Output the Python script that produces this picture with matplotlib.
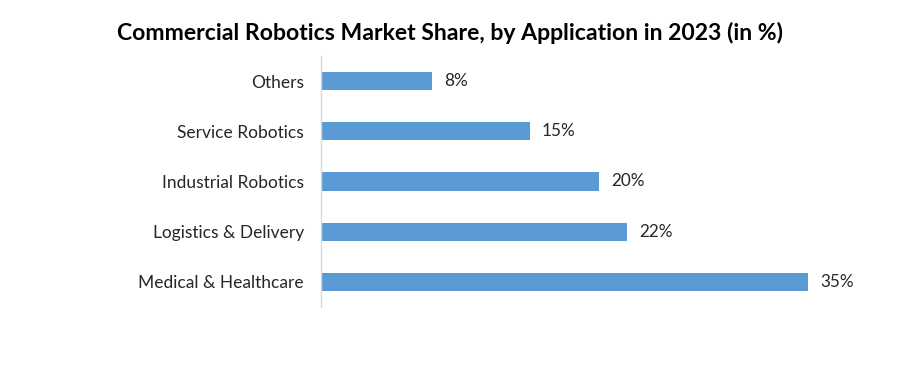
import matplotlib
matplotlib.use("Agg")
import matplotlib.pyplot as plt

categories = ["Medical & Healthcare", "Logistics & Delivery", "Industrial Robotics", "Service Robotics", "Others"]
values = [35, 22, 20, 15, 8]
value_labels = ["35%", "22%", "20%", "15%", "8%"]

plt.rcParams['font.family'] = ['Lato', 'DejaVu Sans']

fig = plt.figure(figsize=(9, 3.74), dpi=100)
ax = fig.add_axes([320.5/900, 67/374, 540/900, 251/374])
bars = ax.barh(range(len(categories)), values, height=0.36, color="#5B9BD5")
ax.set_ylim(-0.5, len(categories) - 0.5)
ax.set_xlim(0, 540/13.94)
ax.set_yticks(range(len(categories)))
ax.set_yticklabels(categories, fontsize=12.5, color="#262626")
ax.tick_params(axis='y', length=0, pad=12)
ax.set_xticks([])
for s in ["top", "right", "bottom"]:
    ax.spines[s].set_visible(False)
ax.spines["left"].set_color("#D9D9D9")
ax.spines["left"].set_linewidth(1)
for b, lab in zip(bars, value_labels):
    ax.annotate(lab, (b.get_width(), b.get_y() + b.get_height()/2), xytext=(12, 0),
                textcoords="offset pixels",
                va="center", ha="left", fontsize=12.3, color="#262626")
fig.text(0.5, 1 - 33/374, "Commercial Robotics Market Share, by Application in 2023 (in %)",
         ha="center", va="center", fontsize=16.6, fontweight="bold", color="black")
fig.savefig("out.png", dpi=100)
